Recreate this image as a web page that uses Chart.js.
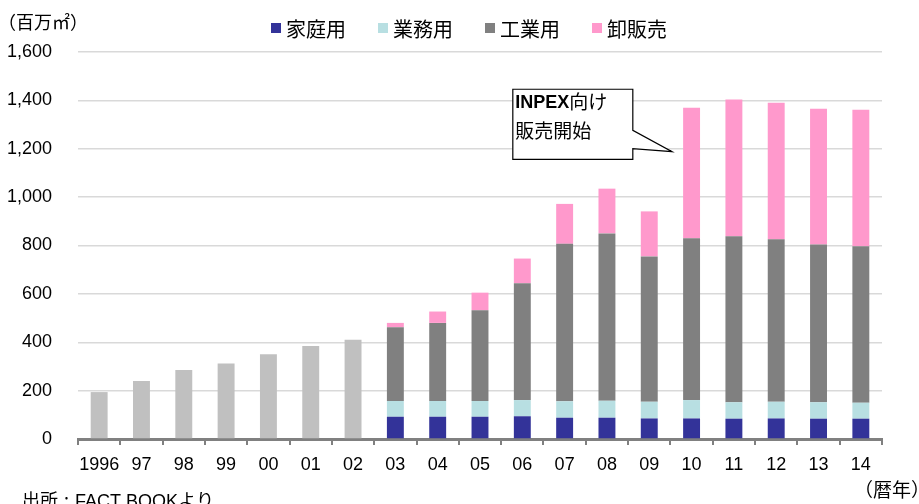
<!DOCTYPE html>
<html>
<head>
<meta charset="utf-8">
<script src="https://cdn.jsdelivr.net/npm/chart.js@4.4.1/dist/chart.umd.min.js"></script>
<style>
html,body{margin:0;padding:0;background:#fff;}
#wrap{width:919px;height:504px;position:relative;}
</style>
</head>
<body>
<div id="wrap"><canvas id="c" width="919" height="504"></canvas></div>
<script>
const years = ['1996','97','98','99','00','01','02','03','04','05','06','07','08','09','10','11','12','13','14'];
const totalEarly = [194,240,285,312,350,385,410,null,null,null,null,null,null,null,null,null,null,null,null];
const household  = [null,null,null,null,null,null,null,92,92,92,94,88,88,85,85,84,85,84,84];
const commercial = [null,null,null,null,null,null,null,65,65,65,67,68,70,69,76,68,69,68,66];
const industrial = [null,null,null,null,null,null,null,305,323,375,483,651,692,601,669,686,672,652,647];
const wholesale  = [null,null,null,null,null,null,null,18,47,73,102,165,185,186,539,566,564,561,564];
const seriesLabels = ['家庭用','業務用','工業用','卸販売'];
const yTicks = [0,200,400,600,800,1000,1200,1400,1600];

const JP = '"Noto Sans CJK JP", "Noto Sans", sans-serif';
const NUM = '"Liberation Sans", Arial, sans-serif';

const overlay = {
  id: 'overlay',
  afterDraw(chart) {
    const ctx = chart.ctx;
    const xs = chart.scales.x, ys = chart.scales.y;
    ctx.save();
    // unit label
    ctx.fillStyle = '#000';
    ctx.font = '18px ' + JP;
    ctx.textBaseline = 'middle';
    ctx.textAlign = 'left';
    ctx.fillText('（百万㎡）', -2, 22);
    // legend
    ctx.font = '20px ' + JP;
    let lx = 271;
    chart.data.datasets.forEach(ds => {
      if (!ds.label) return;
      ctx.fillStyle = ds.backgroundColor;
      ctx.fillRect(lx, 23, 10, 10);
      ctx.fillStyle = '#000';
      ctx.fillText(ds.label, lx + 15, 29);
      lx += 15 + ctx.measureText(ds.label).width + 32;
    });
    // x unit
    ctx.font = '19px ' + JP;
    ctx.textAlign = 'right';
    ctx.fillText('（暦年）', 930, 490);
    // source
    ctx.textAlign = 'left';
    ctx.textBaseline = 'alphabetic';
    ctx.font = '18px ' + JP;
    ctx.fillText('出所', 22, 507);
    ctx.fillText(':', 64, 507);
    ctx.font = '18px ' + NUM;
    const fb = 'FACT BOOK';
    ctx.fillText(fb, 75, 507);
    const fw = ctx.measureText(fb).width;
    ctx.font = '18px ' + JP;
    ctx.fillText('より', 75 + fw, 507);

    // callout
    const cx = xs.getPixelForValue(14);
    const tipX = cx - 19.5, tipY = ys.getPixelForValue(1188);
    const bL = xs.getPixelForValue(10) - 10, bR = bL + 120;
    const bT = ys.getPixelForValue(1448), bB = ys.getPixelForValue(1158);
    const pT = ys.getPixelForValue(1276), pB = ys.getPixelForValue(1200);
    ctx.beginPath();
    ctx.moveTo(bL + 0.5, bT + 0.5);
    ctx.lineTo(bR + 0.5, bT + 0.5);
    ctx.lineTo(bR + 0.5, pT);
    ctx.lineTo(tipX, tipY);
    ctx.lineTo(bR + 0.5, pB);
    ctx.lineTo(bR + 0.5, bB + 0.5);
    ctx.lineTo(bL + 0.5, bB + 0.5);
    ctx.closePath();
    ctx.fillStyle = '#fff';
    ctx.fill();
    ctx.strokeStyle = '#000';
    ctx.lineWidth = 1.2;
    ctx.stroke();
    ctx.fillStyle = '#000';
    ctx.textBaseline = 'middle';
    ctx.font = 'bold 18px ' + NUM;
    ctx.fillText('INPEX', bL + 3, bT + 14);
    const w = ctx.measureText('INPEX').width;
    ctx.font = '19px ' + JP;
    ctx.fillText('向け', bL + 3 + w, bT + 13);
    ctx.fillText('販売開始', bL + 3, bT + 42);
    ctx.restore();
  }
};

new Chart(document.getElementById('c'), {
  type: 'bar',
  data: {
    labels: years,
    datasets: [
      { label: '', data: totalEarly, backgroundColor: '#C0C0C0' },
      { label: seriesLabels[0], data: household, backgroundColor: '#333399' },
      { label: seriesLabels[1], data: commercial, backgroundColor: '#B8DFE2' },
      { label: seriesLabels[2], data: industrial, backgroundColor: '#808080' },
      { label: seriesLabels[3], data: wholesale, backgroundColor: '#FF99CC' }
    ]
  },
  options: {
    responsive: false,
    animation: false,
    layout: { padding: { top: 52, left: 0, right: 37, bottom: 0 } },
    datasets: { bar: { categoryPercentage: 1.0, barPercentage: 0.4, borderWidth: 0 } },
    plugins: {
      legend: { display: false },
      title: { display: false },
      tooltip: { enabled: false }
    },
    scales: {
      x: {
        stacked: true,
        afterFit(s) { s.height = 65; },
        grid: { offset: true, drawOnChartArea: false, drawTicks: true, tickLength: 6, color: '#808080', lineWidth: 2 },
        border: { display: true, color: '#808080', width: 3 },
        ticks: { color: '#000', font: { family: NUM, size: 18 }, padding: 9, maxRotation: 0, autoSkip: false }
      },
      y: {
        stacked: true,
        min: 0, max: 1600,
        afterFit(s) { s.width = 78; },
        afterBuildTicks(s) { s.ticks = yTicks.map(v => ({ value: v })); },
        grid: { drawTicks: false, color: '#D9D9D9', lineWidth: 1.5 },
        border: { display: false },
        ticks: { color: '#000', font: { family: NUM, size: 18 }, padding: 26,
          callback: v => v.toLocaleString('en-US') }
      }
    }
  },
  plugins: [overlay]
});
</script>
</body>
</html>
